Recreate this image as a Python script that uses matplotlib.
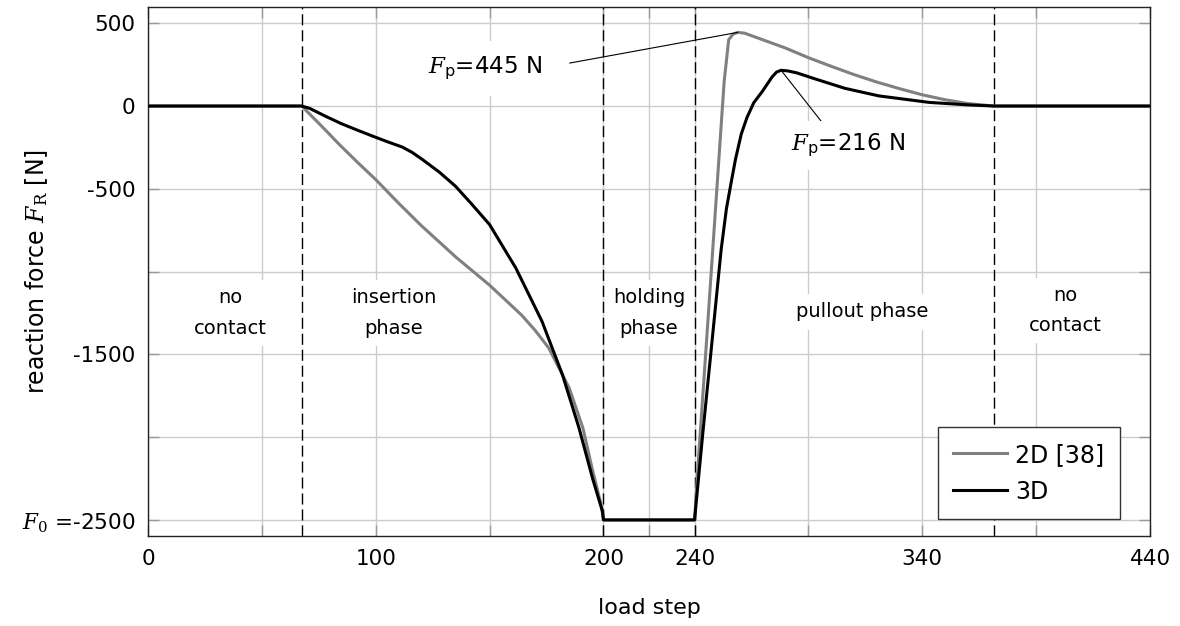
import matplotlib
matplotlib.use("Agg")
from matplotlib import pyplot as plt
from matplotlib.ticker import FixedLocator, FixedFormatter

plt.rcParams['font.family'] = ['DejaVu Sans']
plt.rcParams['mathtext.fontset'] = 'custom'
plt.rcParams['mathtext.it'] = 'DejaVu Serif:italic'
plt.rcParams['mathtext.rm'] = 'DejaVu Serif'
plt.rcParams['mathtext.sf'] = 'DejaVu Sans'
plt.rcParams['axes.unicode_minus'] = False

# 2D reference model [38]
step_2d = [0, 67.5, 76, 84, 92, 100, 110, 120, 135, 150, 164, 170, 176, 185, 191, 195, 199, 200,
           240, 242, 245, 248, 251, 253, 255, 257, 259, 262, 270, 280, 290, 300, 310, 320, 330,
           340, 350, 360, 371.5, 440]
force_2d = [0, 0, -118, -232, -340, -444, -586, -722, -910, -1082, -1262, -1355, -1462, -1704,
            -1946, -2188, -2409, -2500, -2500, -2075, -1473, -865, -257, 148, 401, 435, 445,
            440, 400, 350, 292, 240, 190, 145, 105, 68, 38, 15, 0, 0]

# 3D model
step_3d = [0, 67.5, 71, 78, 85, 92, 98.5, 105, 111.7, 116, 120.5, 128, 135, 142, 150, 161.5,
           173, 182, 189.3, 195.2, 199.6, 200, 240, 243.6, 247.3, 251.7, 254, 256.1, 258,
           260.5, 263, 266, 269.9, 274, 276, 278, 281, 285, 292, 306, 321, 343, 360, 371.5, 440]
force_3d = [0, 0, -14, -62, -107, -146, -181, -215, -248, -280, -323, -400, -484, -590, -716,
            -978, -1300, -1623, -1946, -2248, -2450, -2500, -2500, -1980, -1473, -865, -620,
            -460, -320, -170, -70, 20, 91, 175, 205, 216, 212, 200, 168, 107, 61, 22, 7, 0, 0]

phase_bounds = [67.5, 200, 240, 371.5]
phase_labels = ["no\ncontact", "insertion\nphase", "holding\nphase", "pullout phase", "no\ncontact"]
phase_label_x = [36, 108, 220, 313.6, 403]
phase_label_y = [-1250, -1250, -1250, -1242, -1235]

x_major = [0, 100, 200, 240, 340, 440]
x_minor = [50, 150, 220, 290, 390]
y_ticks = [-2500, -2000, -1500, -1000, -500, 0, 500]
y_ticklabels = ["$F_0$ =-2500", "", "-1500", "", "-500", "0", "500"]

fig = plt.figure(figsize=(11.8, 6.26), dpi=100)
ax = fig.add_axes([0.1254, 0.143, 0.8492, 0.8463])

ax.set_xlim(0, 440)
ax.set_ylim(-2600, 600)

ax.xaxis.set_major_locator(FixedLocator(x_major))
ax.xaxis.set_minor_locator(FixedLocator(x_minor))
ax.yaxis.set_major_locator(FixedLocator(y_ticks))
ax.yaxis.set_major_formatter(FixedFormatter(y_ticklabels))
ax.grid(True, which='both', axis='x', color='#cccccc', linewidth=1.0, zorder=0)
ax.grid(True, which='major', axis='y', color='#cccccc', linewidth=1.0, zorder=0)
ax.set_axisbelow(True)
ax.tick_params(which='both', direction='in', top=True, right=True, length=8, width=1,
               color='#999999', labelsize=15.5, pad=9)

for s in ax.spines.values():
    s.set_linewidth(1.0)
    s.set_color('#222222')

for xb in phase_bounds:
    ax.axvline(xb, color='black', linewidth=1.0, linestyle=(0, (8, 3.5)), zorder=2)

ax.plot(step_2d, force_2d, color='#808080', linewidth=2.2, label='2D [38]', zorder=3)
ax.plot(step_3d, force_3d, color='black', linewidth=2.2, label='3D', zorder=4)

for lbl, tx, ty in zip(phase_labels, phase_label_x, phase_label_y):
    ax.text(tx, ty, lbl, ha='center', va='center', fontsize=14, linespacing=1.75,
            bbox=dict(facecolor='white', edgecolor='none', pad=6), zorder=5)

# peak annotations
i2 = force_2d.index(max(force_2d))
i3 = force_3d.index(max(force_3d))
ax.annotate(r"$F_\mathsf{p}$=445 N", xy=(step_2d[i2], force_2d[i2]), xytext=(148, 229),
            ha='center', va='center', fontsize=16.5,
            bbox=dict(facecolor='white', edgecolor='none', pad=10),
            arrowprops=dict(arrowstyle='-', color='black', linewidth=0.8, relpos=(1.0, 0.5),
                            shrinkA=10, shrinkB=0), zorder=6)
ax.annotate(r"$F_\mathsf{p}$=216 N", xy=(step_3d[i3], force_3d[i3]), xytext=(307.4, -240),
            ha='center', va='center', fontsize=16.5,
            bbox=dict(facecolor='white', edgecolor='none', pad=8),
            arrowprops=dict(arrowstyle='-', color='black', linewidth=0.8, relpos=(0.34, 1.0),
                            shrinkA=0, shrinkB=0), zorder=6)

ax.set_xlabel("load step", fontsize=16, labelpad=21)
ax.set_ylabel(r"reaction force $F_\mathrm{R}$ [N]", fontsize=17)
ax.yaxis.set_label_coords(-0.098, 0.5)

leg = ax.legend(loc='lower right', bbox_to_anchor=(0.970, 0.033), borderaxespad=0,
                fontsize=17, frameon=True, fancybox=False, framealpha=1.0,
                handlelength=2.3, handletextpad=0.35, borderpad=0.65, labelspacing=0.55)
leg.get_frame().set_edgecolor('#333333')
leg.get_frame().set_linewidth(1.0)
leg.set_zorder(7)

plt.savefig("out.png", dpi=100)
